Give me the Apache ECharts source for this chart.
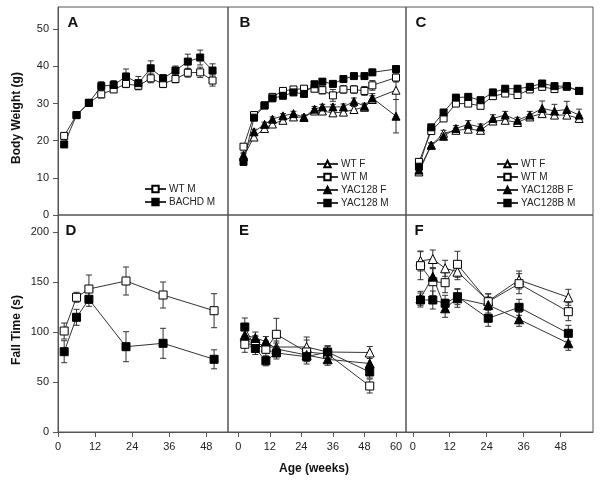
<!DOCTYPE html>
<html>
<head>
<meta charset="utf-8">
<script src="https://cdn.jsdelivr.net/npm/echarts@6/dist/echarts.min.js"></script>
<style>
  html, body { margin: 0; padding: 0; background: #fff; }
  #main { width: 600px; height: 484px; }
</style>
</head>
<body>
<div id="main"></div>
<script>
'use strict';

// A: body weight, BACHD
var aWeeks = [2, 6, 10, 14, 18, 22, 26, 30, 34, 38, 42, 46, 50];
var aWtM = [21.3, 26.9, 30.2, 32.5, 33.8, 35.3, 34.8, 36.8, 35.3, 36.6, 38.3, 38.4, 36.2];
var aWtMErr = [0.8, 0.6, 0.6, 1.0, 0.8, 1.0, 0.9, 1.2, 1.0, 1.0, 1.2, 1.4, 1.5];
var aBachdM = [19.0, 26.9, 30.2, 34.7, 35.0, 37.3, 35.5, 39.5, 36.8, 38.9, 41.3, 42.4, 38.9];
var aBachdMErr = [0.8, 0.6, 0.6, 1.2, 1.2, 2.0, 1.8, 2.0, 1.0, 1.2, 2.0, 2.0, 1.8];

// B: body weight, YAC128
var bWeeks = [2, 6, 10, 13, 17, 21, 25, 29, 32, 36, 40, 44, 48, 51, 60];
var bWtF = [15.7, 21.0, 23.3, 24.5, 25.5, 26.4, 26.3, 28.0, 28.0, 27.5, 27.7, 28.4, 29.0, 31.1, 33.6];
var bWtFErr = [0.8, 0.8, 0.6, 0.6, 0.6, 0.6, 0.6, 0.7, 0.7, 0.7, 0.7, 0.8, 0.8, 1.0, 2.5];
var bWtM = [18.4, 26.9, 29.5, 31.8, 33.4, 33.8, 34.0, 34.0, 33.6, 32.2, 33.8, 33.8, 33.4, 34.9, 37.0];
var bWtMErr = [0.8, 0.8, 0.7, 0.7, 0.7, 0.7, 0.7, 0.8, 1.0, 1.6, 1.0, 1.0, 1.2, 1.3, 1.2];
var bYacF = [16.1, 22.4, 24.4, 25.8, 26.7, 27.3, 26.3, 28.5, 29.1, 29.1, 29.1, 30.6, 29.3, 31.5, 26.6];
var bYacFErr = [0.8, 0.7, 0.6, 0.6, 0.6, 0.6, 0.6, 0.7, 0.7, 0.7, 0.8, 0.9, 0.8, 1.2, 4.5];
var bYacM = [14.3, 26.2, 29.5, 31.4, 32.1, 33.0, 32.6, 35.2, 35.9, 35.3, 36.6, 37.4, 37.4, 38.4, 39.3];
var bYacMErr = [0.8, 0.7, 0.6, 0.6, 0.6, 0.6, 0.6, 0.7, 0.7, 0.7, 0.7, 0.7, 0.7, 0.8, 0.9];

// C: body weight, YAC128B
var cWeeks = [2, 6, 10, 14, 18, 22, 26, 30, 34, 38, 42, 46, 50, 54];
var cWtF = [11.6, 18.8, 22.0, 22.8, 23.1, 22.8, 25.3, 25.5, 24.9, 26.4, 27.3, 26.9, 26.9, 26.0];
var cWtFErr = [0.6, 0.6, 0.8, 0.6, 0.6, 0.6, 0.7, 0.7, 0.7, 0.7, 0.8, 0.8, 0.8, 0.8];
var cWtM = [14.3, 22.6, 26.0, 30.0, 30.0, 29.4, 32.0, 32.7, 32.3, 33.8, 34.5, 33.9, 34.5, 33.4];
var cWtMErr = [0.6, 0.6, 0.7, 0.8, 0.8, 0.8, 0.8, 0.8, 0.8, 0.8, 0.8, 0.8, 0.8, 0.8];
var cYacF = [12.1, 18.8, 21.2, 23.3, 24.4, 23.7, 26.0, 26.9, 25.5, 26.9, 28.7, 28.0, 28.4, 26.9];
var cYacFErr = [0.6, 0.6, 0.7, 0.8, 1.0, 0.8, 1.0, 1.0, 0.8, 1.0, 2.0, 1.8, 2.2, 1.6];
var cYacM = [13.0, 23.6, 27.6, 31.6, 31.8, 30.9, 33.0, 34.0, 34.0, 34.5, 35.4, 34.7, 34.7, 33.4];
var cYacMErr = [0.6, 0.6, 0.7, 0.8, 0.8, 0.8, 0.8, 0.8, 0.8, 0.8, 0.8, 0.8, 0.8, 0.8];

// D: fall time, BACHD
var dWeeks = [2, 6, 10, 22, 34, 50.5];
var dWtM = [101, 134.7, 143, 151, 137, 121.3];
var dWtMErr = [8, 5, 14, 14, 13, 17];
var dBachdM = [80.3, 114.7, 132.7, 85.3, 88.7, 72.7];
var dBachdMErr = [11, 8, 7, 15, 15, 9.5];

// E: fall time, YAC128
var eWeeks = [2.5, 6.5, 10.5, 14.5, 26, 34, 50];
var eWtF = [95, 90, 85, 85, 85, 80, 79.5];
var eWtFErr = [7, 6, 6, 6, 10, 6, 6];
var eWtM = [87.7, 88, 82.7, 97.7, 80, 78, 46];
var eWtMErr = [8, 8, 7, 16, 12, 8, 7];
var eYacF = [97, 94, 90.5, 83, 77, 72.7, 68.5];
var eYacFErr = [7, 6, 5, 6, 6, 6, 7];
var eYacM = [105, 83.5, 71.2, 79, 75.3, 80, 60];
var eYacMErr = [9, 6, 5, 6, 5, 6, 6];

// F: fall time, YAC128B
var fWeeks = [2.5, 6.5, 10.5, 14.5, 24.5, 34.5, 50.5];
var fWtF = [171, 173, 163.7, 160.3, 131, 152, 134.7];
var fWtFErr = [10, 9, 8, 8, 7, 9, 8];
var fWtM = [166.3, 150.3, 149.3, 167.7, 130.3, 148.3, 120.3];
var fWtMErr = [14, 14, 10, 13, 8, 10, 9];
var fYacF = [133.7, 155.3, 123.7, 133.7, 127, 112.7, 88.7];
var fYacFErr = [7, 8, 9, 9, 8, 7, 7];
var fYacM = [132, 132, 128.7, 135.3, 113.7, 124.7, 98.7];
var fYacMErr = [7, 9, 8, 8, 8, 8, 8];

// tick labels
var weightTicks = [0, 10, 20, 30, 40, 50];
var fallTicks = [0, 50, 100, 150, 200];
var ageTicksDF = [0, 12, 24, 36, 48];
var ageTicksE = [0, 12, 24, 36, 48, 60];

var FONT = 'Liberation Sans, Arial, sans-serif';
var FRAME = '#555';
var INK = '#222';

var chart = echarts.init(document.getElementById('main'));

function pairs(xs, ys) {
    return xs.map(function (x, i) { return [x, ys[i]]; });
}

function lineSeries(name, idx, xs, ys, symbol, filled, size) {
    return {
        name: name,
        type: 'line',
        xAxisIndex: idx,
        yAxisIndex: idx,
        data: pairs(xs, ys),
        symbol: symbol,
        symbolSize: size,
        showAllSymbol: true,
        z: 3,
        lineStyle: { color: '#333', width: 1 },
        itemStyle: {
            color: filled ? '#000' : '#fff',
            borderColor: '#000',
            borderWidth: 1
        },
        emphasis: { disabled: true }
    };
}

function renderErr(params, api) {
    var x = api.value(0), y = api.value(1), e = api.value(2);
    var hi = api.coord([x, y + e]);
    var lo = api.coord([x, y - e]);
    var w = 3;
    var st = { stroke: '#333', lineWidth: 1 };
    return {
        type: 'group',
        children: [
            { type: 'line', shape: { x1: hi[0], y1: hi[1], x2: lo[0], y2: lo[1] }, style: st },
            { type: 'line', shape: { x1: hi[0] - w, y1: hi[1], x2: hi[0] + w, y2: hi[1] }, style: st },
            { type: 'line', shape: { x1: lo[0] - w, y1: lo[1], x2: lo[0] + w, y2: lo[1] }, style: st }
        ]
    };
}

function errSeries(idx, xs, ys, es) {
    return {
        type: 'custom',
        name: 'err',
        xAxisIndex: idx,
        yAxisIndex: idx,
        renderItem: renderErr,
        data: xs.map(function (x, i) { return [x, ys[i], es[i]]; }),
        encode: { x: 0, y: 1 },
        z: 1,
        silent: true
    };
}

var grids = [
    { left: 58, top: 7, width: 170, height: 208 },
    { left: 228, top: 7, width: 178, height: 208 },
    { left: 406, top: 7, width: 187, height: 208 },
    { left: 58, top: 215, width: 170, height: 217 },
    { left: 228, top: 215, width: 178, height: 217 },
    { left: 406, top: 215, width: 187, height: 217 }
].map(function (g) {
    g.show = true;
    g.borderColor = FRAME;
    g.borderWidth = 1;
    g.containLabel = false;
    return g;
});

function hiddenAxis(idx, min, max) {
    return {
        gridIndex: idx, type: 'value', min: min, max: max,
        axisLine: { show: false }, axisTick: { show: false },
        axisLabel: { show: false }, splitLine: { show: false }
    };
}

function shownXAxis(idx, min, max, ticks) {
    return {
        gridIndex: idx, type: 'value', min: min, max: max,
        axisLine: { show: true, onZero: false, lineStyle: { color: FRAME } },
        axisTick: { show: true, inside: false, length: 5, customValues: ticks, lineStyle: { color: FRAME } },
        axisLabel: { show: true, customValues: ticks, margin: 9, color: INK, fontSize: 11, fontFamily: FONT },
        splitLine: { show: false }
    };
}

function shownYAxis(idx, min, max, ticks) {
    return {
        gridIndex: idx, type: 'value', min: min, max: max,
        axisLine: { show: true, onZero: false, lineStyle: { color: FRAME } },
        axisTick: { show: true, inside: false, length: 5, customValues: ticks, lineStyle: { color: FRAME } },
        axisLabel: { show: true, customValues: ticks, margin: 9, color: INK, fontSize: 11, fontFamily: FONT },
        splitLine: { show: false }
    };
}

var xAxes = [
    hiddenAxis(0, 0, 55),
    hiddenAxis(1, -3.9, 63.8),
    hiddenAxis(2, -2.2, 58.5),
    shownXAxis(3, 0, 55, ageTicksDF),
    shownXAxis(4, -3.9, 63.8, ageTicksE),
    shownXAxis(5, -2.2, 58.5, ageTicksDF)
];

var yAxes = [
    shownYAxis(0, 0, 56, weightTicks),
    hiddenAxis(1, 0, 56),
    hiddenAxis(2, 0, 56),
    shownYAxis(3, 0, 217, fallTicks),
    hiddenAxis(4, 0, 217),
    hiddenAxis(5, 0, 217)
];

var SQ = 7, TR = 8, SQ2 = 8, TR2 = 9;

var series = [
    // A
    errSeries(0, aWeeks, aWtM, aWtMErr),
    errSeries(0, aWeeks, aBachdM, aBachdMErr),
    lineSeries('WT M', 0, aWeeks, aWtM, 'rect', false, SQ),
    lineSeries('BACHD M', 0, aWeeks, aBachdM, 'rect', true, SQ),
    // B
    errSeries(1, bWeeks, bWtF, bWtFErr),
    errSeries(1, bWeeks, bWtM, bWtMErr),
    errSeries(1, bWeeks, bYacF, bYacFErr),
    errSeries(1, bWeeks, bYacM, bYacMErr),
    lineSeries('WT F', 1, bWeeks, bWtF, 'triangle', false, TR),
    lineSeries('WT M', 1, bWeeks, bWtM, 'rect', false, SQ),
    lineSeries('YAC128 F', 1, bWeeks, bYacF, 'triangle', true, TR),
    lineSeries('YAC128 M', 1, bWeeks, bYacM, 'rect', true, SQ),
    // C
    errSeries(2, cWeeks, cWtF, cWtFErr),
    errSeries(2, cWeeks, cWtM, cWtMErr),
    errSeries(2, cWeeks, cYacF, cYacFErr),
    errSeries(2, cWeeks, cYacM, cYacMErr),
    lineSeries('WT F', 2, cWeeks, cWtF, 'triangle', false, TR),
    lineSeries('WT M', 2, cWeeks, cWtM, 'rect', false, SQ),
    lineSeries('YAC128B F', 2, cWeeks, cYacF, 'triangle', true, TR),
    lineSeries('YAC128B M', 2, cWeeks, cYacM, 'rect', true, SQ),
    // D
    errSeries(3, dWeeks, dWtM, dWtMErr),
    errSeries(3, dWeeks, dBachdM, dBachdMErr),
    lineSeries('WT M', 3, dWeeks, dWtM, 'rect', false, SQ2),
    lineSeries('BACHD M', 3, dWeeks, dBachdM, 'rect', true, SQ2),
    // E
    errSeries(4, eWeeks, eWtF, eWtFErr),
    errSeries(4, eWeeks, eWtM, eWtMErr),
    errSeries(4, eWeeks, eYacF, eYacFErr),
    errSeries(4, eWeeks, eYacM, eYacMErr),
    lineSeries('WT F', 4, eWeeks, eWtF, 'triangle', false, TR2),
    lineSeries('WT M', 4, eWeeks, eWtM, 'rect', false, SQ2),
    lineSeries('YAC128 F', 4, eWeeks, eYacF, 'triangle', true, TR2),
    lineSeries('YAC128 M', 4, eWeeks, eYacM, 'rect', true, SQ2),
    // F
    errSeries(5, fWeeks, fWtF, fWtFErr),
    errSeries(5, fWeeks, fWtM, fWtMErr),
    errSeries(5, fWeeks, fYacF, fYacFErr),
    errSeries(5, fWeeks, fYacM, fYacMErr),
    lineSeries('WT F', 5, fWeeks, fWtF, 'triangle', false, TR2),
    lineSeries('WT M', 5, fWeeks, fWtM, 'rect', false, SQ2),
    lineSeries('YAC128B F', 5, fWeeks, fYacF, 'triangle', true, TR2),
    lineSeries('YAC128B M', 5, fWeeks, fYacM, 'rect', true, SQ2)
];

function legendAt(left, top, names) {
    return {
        data: names,
        left: left,
        top: top,
        orient: 'vertical',
        itemWidth: 21,
        itemHeight: 8,
        itemGap: 3,
        selectedMode: false,
        textStyle: { fontSize: 10, fontFamily: FONT, color: INK, padding: [0, 0, 0, -2] },
        padding: 0
    };
}

var legends = [
    legendAt(144, 184, ['WT M', 'BACHD M']),
    legendAt(316, 159, ['WT F', 'WT M', 'YAC128 F', 'YAC128 M']),
    legendAt(496, 159, ['WT F', 'WT M', 'YAC128B F', 'YAC128B M'])
];

function txt(text, x, y, size, rot) {
    return {
        type: 'text',
        x: x, y: y,
        rotation: rot || 0,
        style: {
            text: text,
            font: 'bold ' + size + 'px ' + FONT,
            fill: '#111',
            align: 'center',
            verticalAlign: 'middle'
        }
    };
}

var graphics = [
    txt('A', 73, 23, 15),
    txt('B', 245, 23, 15),
    txt('C', 421, 23, 15),
    txt('D', 71, 231, 15),
    txt('E', 244, 231, 15),
    txt('F', 419, 231, 15),
    txt('Body Weight (g)', 17, 118, 12, Math.PI / 2),
    txt('Fall Time (s)', 17, 330, 12, Math.PI / 2),
    txt('Age (weeks)', 314, 469, 12)
];

var option = {
    animation: false,
    backgroundColor: '#fff',
    textStyle: { fontFamily: FONT },
    grid: grids,
    xAxis: xAxes,
    yAxis: yAxes,
    legend: legends,
    series: series,
    graphic: graphics
};

chart.setOption(option);
</script>
</body>
</html>
